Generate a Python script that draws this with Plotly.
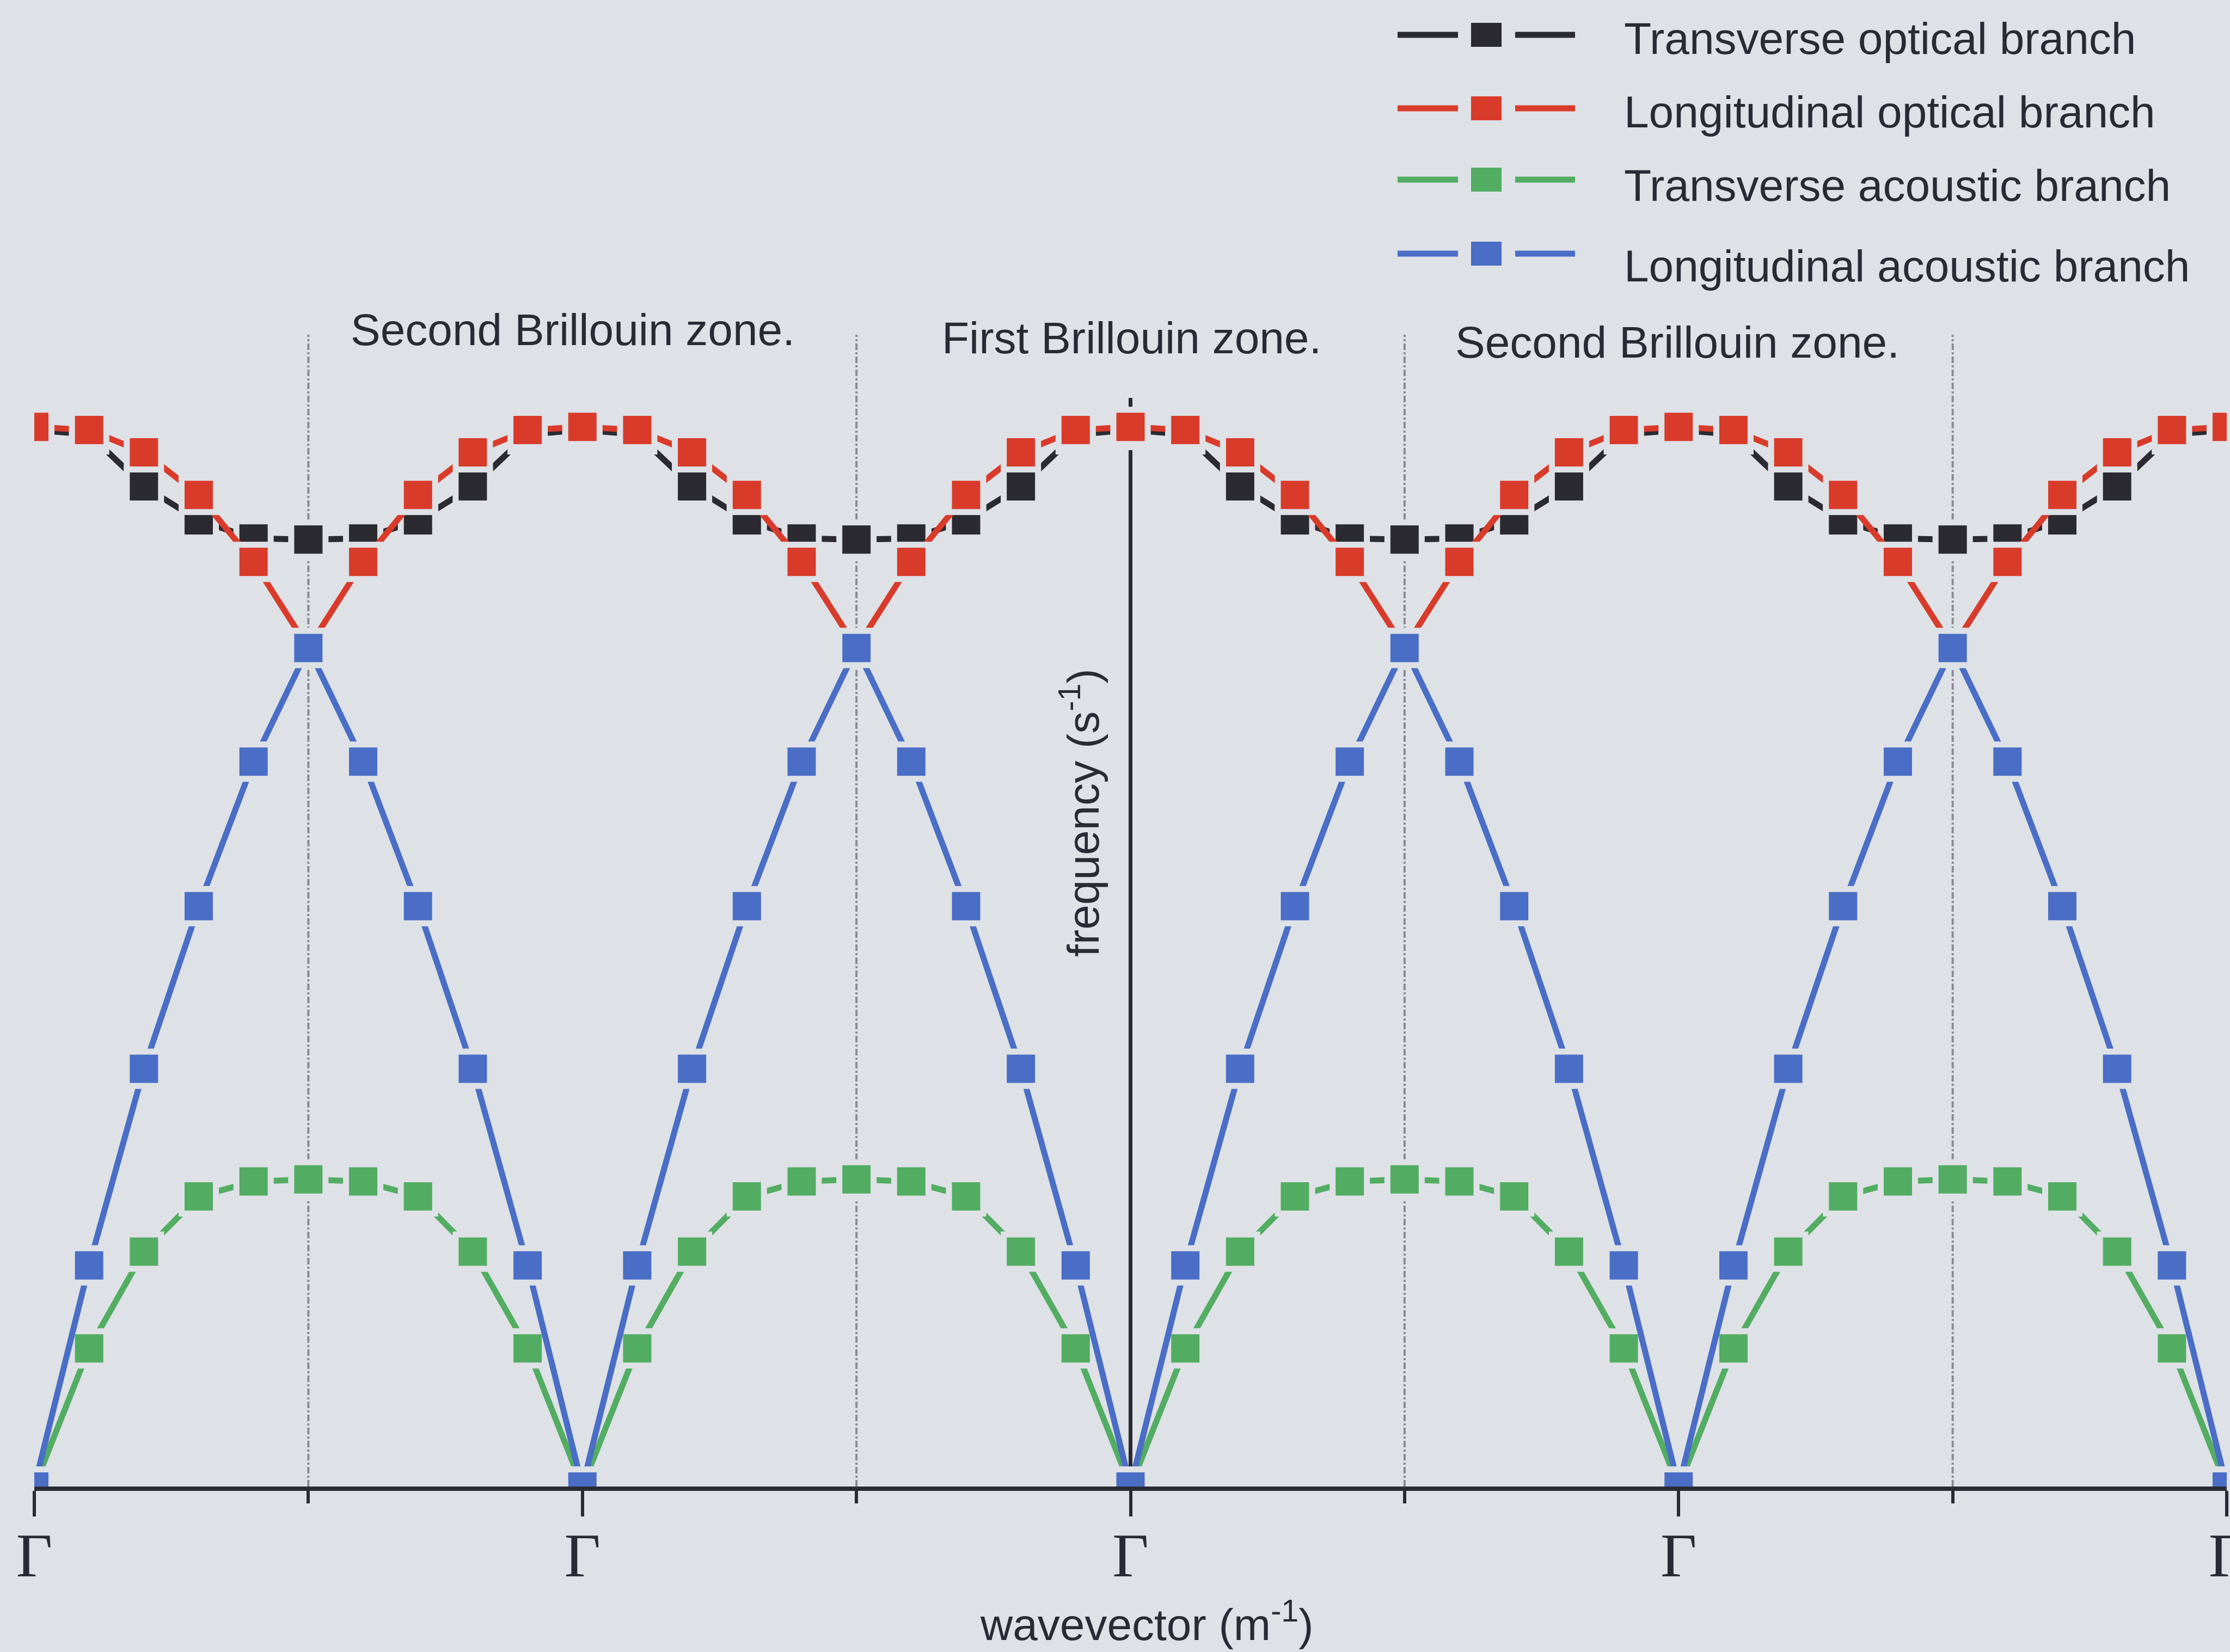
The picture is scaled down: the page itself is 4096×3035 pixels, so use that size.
import plotly.graph_objects as go

# ---------------------------------------------------------------------------
# Phonon dispersion of a diatomic lattice, repeated over several zones
# ---------------------------------------------------------------------------

# wavevector, in units of the reciprocal lattice vector (Γ at the integers)
wavevector = [
    -2.0, -1.9, -1.8, -1.7, -1.6, -1.5, -1.4, -1.3, -1.2, -1.1,
    -1.0, -0.9, -0.8, -0.7, -0.6, -0.5, -0.4, -0.3, -0.2, -0.1,
    0.0, 0.1, 0.2, 0.3, 0.4, 0.5, 0.6, 0.7, 0.8, 0.9,
    1.0, 1.1, 1.2, 1.3, 1.4, 1.5, 1.6, 1.7, 1.8, 1.9,
    2.0,
]

# frequencies (arbitrary units)
transverse_optical = [
    0.994, 0.990, 0.941, 0.909, 0.892, 0.891, 0.892, 0.909, 0.941, 0.990,
    0.994, 0.990, 0.941, 0.909, 0.892, 0.891, 0.892, 0.909, 0.941, 0.990,
    0.994, 0.990, 0.941, 0.909, 0.892, 0.891, 0.892, 0.909, 0.941, 0.990,
    0.994, 0.990, 0.941, 0.909, 0.892, 0.891, 0.892, 0.909, 0.941, 0.990,
    0.994,
]
longitudinal_optical = [
    0.997, 0.994, 0.973, 0.933, 0.870, 0.789, 0.870, 0.933, 0.973, 0.994,
    0.997, 0.994, 0.973, 0.933, 0.870, 0.789, 0.870, 0.933, 0.973, 0.994,
    0.997, 0.994, 0.973, 0.933, 0.870, 0.789, 0.870, 0.933, 0.973, 0.994,
    0.997, 0.994, 0.973, 0.933, 0.870, 0.789, 0.870, 0.933, 0.973, 0.994,
    0.997,
]
transverse_acoustic = [
    0.000, 0.130, 0.221, 0.273, 0.287, 0.289, 0.287, 0.273, 0.221, 0.130,
    0.000, 0.130, 0.221, 0.273, 0.287, 0.289, 0.287, 0.273, 0.221, 0.130,
    0.000, 0.130, 0.221, 0.273, 0.287, 0.289, 0.287, 0.273, 0.221, 0.130,
    0.000, 0.130, 0.221, 0.273, 0.287, 0.289, 0.287, 0.273, 0.221, 0.130,
    0.000,
]
longitudinal_acoustic = [
    0.000, 0.208, 0.393, 0.546, 0.682, 0.789, 0.682, 0.546, 0.393, 0.208,
    0.000, 0.208, 0.393, 0.546, 0.682, 0.789, 0.682, 0.546, 0.393, 0.208,
    0.000, 0.208, 0.393, 0.546, 0.682, 0.789, 0.682, 0.546, 0.393, 0.208,
    0.000, 0.208, 0.393, 0.546, 0.682, 0.789, 0.682, 0.546, 0.393, 0.208,
    0.000,
]

branch_names = [
    "Transverse optical branch",
    "Longitudinal optical branch",
    "Transverse acoustic branch",
    "Longitudinal acoustic branch",
]

gamma_points = [-2, -1, 0, 1, 2]
gamma_labels = ["Γ", "Γ", "Γ", "Γ", "Γ"]
zone_boundaries = [-1.5, -0.5, 0.5, 1.5]
zone_titles = ["Second Brillouin zone.", "First Brillouin zone.", "Second Brillouin zone."]

# ---------------------------------------------------------------------------
# styling
# ---------------------------------------------------------------------------
W, H = 4096, 3035
L, R, T, B = 63, 6, 588, 304

BG = "#dee1e6"
INK = "#2a2a35"
COLORS = {
    "to": "#2b2a31",
    "lo": "#d93b2b",
    "ta": "#52ad62",
    "la": "#4a6ec6",
}
SANS = "Liberation Sans, Arial, Helvetica, sans-serif"
SERIF = "Liberation Serif, Times New Roman, serif"

LINE_W = 11
MARK_SIZE = 63
GAP_W = 11

Y_TOP = 1.0975        # top of plotting area
AXIS_TOP = 1.0243     # top of the frequency axis line
DOT_TOP = 1.0837      # top of the zone boundary guides


def paper_x(px):
    return (px - L) / (W - L - R)


def paper_y(py):
    return (H - B - py) / (H - T - B)


fig = go.Figure()

series = [
    (transverse_optical, branch_names[0], COLORS["to"]),
    (longitudinal_optical, branch_names[1], COLORS["lo"]),
    (transverse_acoustic, branch_names[2], COLORS["ta"]),
    (longitudinal_acoustic, branch_names[3], COLORS["la"]),
]

for values, name, color in series:
    fig.add_trace(
        go.Scatter(
            x=wavevector,
            y=values,
            name=name,
            mode="lines+markers",
            line=dict(color=color, width=LINE_W),
            marker=dict(
                symbol="square",
                size=MARK_SIZE,
                color=color,
                line=dict(color=BG, width=GAP_W),
            ),
            showlegend=False,
            cliponaxis=True,
        )
    )

shapes = []

# zone boundary guides
for xb in zone_boundaries:
    shapes.append(
        dict(
            type="line", xref="x", yref="y",
            x0=xb, x1=xb, y0=0, y1=DOT_TOP,
            line=dict(color="#888b93", width=4, dash="dashdot"),
            layer="below",
        )
    )

# frequency axis through Γ at the centre
shapes.append(
    dict(
        type="line", xref="x", yref="y",
        x0=0, x1=0, y0=0, y1=AXIS_TOP,
        line=dict(color=INK, width=7),
        layer="below",
    )
)

# key: line – marker – line, followed by the branch name
key_rows = [
    (64, 70, COLORS["to"], branch_names[0]),
    (199, 205, COLORS["lo"], branch_names[1]),
    (330, 340, COLORS["ta"], branch_names[2]),
    (466, 488, COLORS["la"], branch_names[3]),
]
annotations = []
for sym_y, text_y, color, name in key_rows:
    for xa, xb in ((2567, 2678), (2783, 2893)):
        shapes.append(
            dict(
                type="line", xref="paper", yref="paper",
                x0=paper_x(xa), x1=paper_x(xb),
                y0=paper_y(sym_y), y1=paper_y(sym_y),
                line=dict(color=color, width=LINE_W),
            )
        )
    shapes.append(
        dict(
            type="rect", xref="paper", yref="paper",
            x0=paper_x(2702), x1=paper_x(2758),
            y0=paper_y(sym_y + 22), y1=paper_y(sym_y - 22),
            fillcolor=color, line=dict(width=0),
        )
    )
    annotations.append(
        dict(
            xref="paper", yref="paper",
            x=paper_x(2981), y=paper_y(text_y),
            xanchor="left", yanchor="middle",
            text=name, showarrow=False,
            font=dict(family=SANS, size=82, color=INK),
        )
    )

# zone titles
for x_c, y_c, title in zip([-1.0176, 0.0015, 0.998], [1.0883, 1.0807, 1.0766], zone_titles):
    annotations.append(
        dict(
            xref="x", yref="y", x=x_c, y=y_c,
            xanchor="center", yanchor="middle",
            text=title, showarrow=False,
            font=dict(family=SANS, size=82, color=INK),
        )
    )

# axis titles
annotations.append(
    dict(
        xref="x", yref="y", x=-0.093, y=0.634,
        xanchor="center", yanchor="middle", textangle=-90,
        text="frequency (s<sup>-1</sup>)", showarrow=False,
        font=dict(family=SANS, size=82, color=INK),
    )
)
annotations.append(
    dict(
        xref="paper", yref="paper", x=paper_x(2106), y=paper_y(2978),
        xanchor="center", yanchor="middle",
        text="wavevector (m<sup>-1</sup>)", showarrow=False,
        font=dict(family=SANS, size=82, color=INK),
    )
)

fig.update_layout(
    width=W,
    height=H,
    margin=dict(l=L, r=R, t=T, b=B, pad=0, autoexpand=False),
    paper_bgcolor=BG,
    plot_bgcolor=BG,
    showlegend=False,
    shapes=shapes,
    annotations=annotations,
    xaxis=dict(
        range=[-2, 2],
        automargin=False,
        showgrid=False,
        zeroline=False,
        showline=True,
        linecolor=INK,
        linewidth=8,
        ticks="outside",
        ticklen=47,
        tickwidth=6,
        tickcolor=INK,
        tickmode="array",
        tickvals=gamma_points,
        ticktext=gamma_labels,
        tickfont=dict(family=SERIF, size=115, color=INK),
        ticklabeloverflow="allow",
        ticklabelstandoff=-28,
        minor=dict(
            tickmode="array",
            tickvals=zone_boundaries,
            ticks="outside",
            ticklen=23,
            tickwidth=6,
            tickcolor=INK,
            showgrid=False,
        ),
        fixedrange=True,
    ),
    yaxis=dict(
        range=[0, Y_TOP],
        automargin=False,
        visible=False,
        showgrid=False,
        zeroline=False,
        fixedrange=True,
    ),
)

fig.write_html("out.html")
